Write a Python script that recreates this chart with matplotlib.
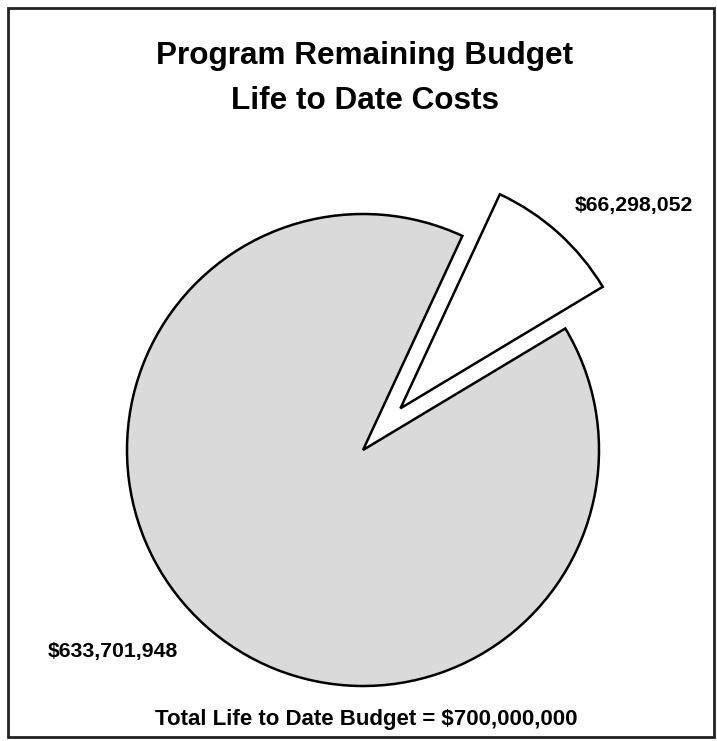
import matplotlib.pyplot as plt
from matplotlib.patches import Rectangle

# data
labels = ['Life to Date Costs', 'Remaining Budget']
values = [66298052, 633701948]
total_budget = 700000000
colors = ['white', '#dadada']

plt.rcParams['font.family'] = ['Liberation Sans', 'DejaVu Sans']

W, H = 717, 741
fig = plt.figure(figsize=(W / 100, H / 100), dpi=100)
ax = fig.add_axes([0, 0, 1, 1])

# explode is in data units here (radius is in pixels)
wedges, _ = ax.pie(values, colors=colors, startangle=31, counterclock=True,
                   explode=[56, 0], radius=236, center=(363, H - 450),
                   frame=True,
                   wedgeprops=dict(edgecolor='black', linewidth=1.8))
ax.set_xlim(0, W)
ax.set_ylim(0, H)
ax.set_aspect('equal')
ax.axis('off')

# outer frame
ax.add_patch(Rectangle((8, H - 737), 706, 729, fill=False, edgecolor='#222222',
                       linewidth=2))

ax.text(365, H - 56, 'Program Remaining Budget', ha='center', va='center',
        fontsize=22.7, fontweight='bold')
ax.text(365, H - 101, 'Life to Date Costs', ha='center', va='center',
        fontsize=22.7, fontweight='bold')

ax.text(575, H - 206, '${:,}'.format(values[0]), ha='left', va='center',
        fontsize=15.3, fontweight='bold')
ax.text(48, H - 652, '${:,}'.format(values[1]), ha='left', va='center',
        fontsize=15.3, fontweight='bold')
ax.text(366, H - 719, 'Total Life to Date Budget = ${:,}'.format(total_budget),
        ha='center', va='center', fontsize=16, fontweight='bold')

fig.savefig('out.png', dpi=100, facecolor='white')
